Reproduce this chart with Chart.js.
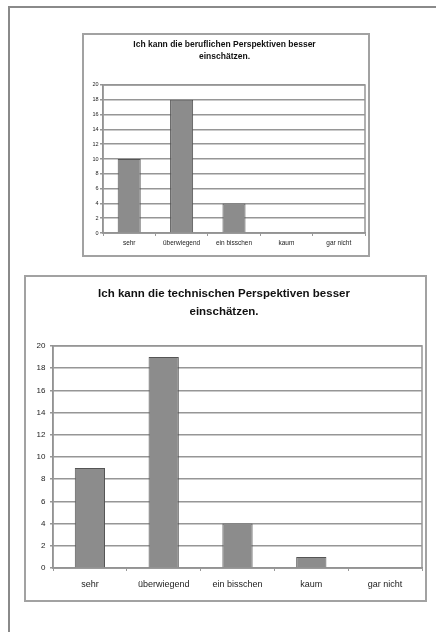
<!DOCTYPE html>
<html lang="de">
<head>
<meta charset="utf-8">
<title>Perspektiven</title>
<script src="https://cdn.jsdelivr.net/npm/chart.js@4/dist/chart.umd.min.js"></script>
<style>
  body { margin: 0; background: #fff; width: 436px; height: 632px; position: relative; overflow: hidden; }
  .seite { position: absolute; left: 8px; top: 6px; right: 0; bottom: 0; border-top: 2px solid #8a8a8a; border-left: 2px solid #8a8a8a; }
  .kasten { position: absolute; border: 2px solid #a2a2a2; background: #fff; }
  #kastenOben { left: 82px; top: 33px; width: 284px; height: 220px; }
  #kastenUnten { left: 24px; top: 275px; width: 399px; height: 323px; }
  canvas { display: block; }
</style>
</head>
<body>
<div class="seite"></div>
<div class="kasten" id="kastenOben"><canvas id="chartBeruflich" width="284" height="220"></canvas></div>
<div class="kasten" id="kastenUnten"><canvas id="chartTechnisch" width="399" height="323"></canvas></div>

<script>
const categories = ['sehr', 'überwiegend', 'ein bisschen', 'kaum', 'gar nicht'];
const beruflichWerte = [10, 18, 4, 0, 0];
const technischWerte = [9, 19, 4, 1, 0];
const titelBeruflich = ['Ich kann die beruflichen Perspektiven besser', 'einschätzen.'];
const titelTechnisch = ['Ich kann die technischen Perspektiven besser', 'einschätzen.'];
const yMax = 20;
const yStep = 2;

// Rahmen um die Zeichenfläche (rechte Kante fehlt sonst)
const plotRahmen = {
    id: 'plotRahmen',
    beforeDatasetsDraw(chart) {
        const a = chart.chartArea;
        const ctx = chart.ctx;
        ctx.save();
        ctx.strokeStyle = '#969696';
        ctx.lineWidth = 1.5;
        ctx.strokeRect(a.left, a.top, a.right - a.left, a.bottom - a.top);
        ctx.restore();
    }
};

function renderBalken(canvasId, werte, titel, m) {
    const canvas = document.getElementById(canvasId);
    if (!canvas) return;
    const ctx = canvas.getContext('2d');

    new Chart(ctx, {
        type: 'bar',
        data: {
            labels: categories,
            datasets: [{
                data: werte,
                backgroundColor: '#8c8c8c',
                borderColor: '#555',
                borderWidth: 1,
                categoryPercentage: 1,
                barPercentage: m.bar
            }]
        },
        options: {
            responsive: false,
            animation: false,
            layout: { padding: { left: 0, right: 3, top: 0, bottom: 0 } },
            plugins: {
                legend: { display: false },
                tooltip: { enabled: false },
                title: {
                    display: true,
                    text: titel,
                    color: '#111',
                    font: { family: "'Liberation Sans', Arial, sans-serif", size: m.titelGroesse, weight: 'bold', lineHeight: m.titelZeile },
                    padding: { top: m.titelOben, bottom: m.titelUnten }
                }
            },
            scales: {
                x: {
                    offset: true,
                    grid: { display: true, drawOnChartArea: false, drawTicks: true, tickLength: 3, color: '#999', lineWidth: 1 },
                    border: { display: true, color: '#8a8a8a', width: 1.5 },
                    ticks: {
                        color: '#222',
                        padding: m.xPad,
                        maxRotation: 0,
                        autoSkip: false,
                        font: { family: "'Liberation Sans', Arial, sans-serif", size: m.xSchrift }
                    },
                    afterFit(scale) { scale.height = m.xHoehe; }
                },
                y: {
                    min: 0,
                    max: yMax,
                    grid: { color: '#969696', lineWidth: 1.5, tickLength: 3 },
                    border: { display: true, color: '#8a8a8a', width: 1.5 },
                    ticks: {
                        stepSize: yStep,
                        color: '#222',
                        padding: m.yPad,
                        font: { family: "'Liberation Sans', Arial, sans-serif", size: m.ySchrift }
                    },
                    afterFit(scale) { scale.width = m.yBreite; }
                }
            }
        },
        plugins: [plotRahmen]
    });
}

renderBalken('chartBeruflich', beruflichWerte, titelBeruflich, {
    bar: 0.44, titelGroesse: 8.5, titelZeile: 1.41, titelOben: 4, titelUnten: 22,
    xSchrift: 6.5, xPad: 3.5, xHoehe: 22, ySchrift: 5.5, yPad: 1.5, yBreite: 19
});

renderBalken('chartTechnisch', technischWerte, titelTechnisch, {
    bar: 0.41, titelGroesse: 11.5, titelZeile: 1.56, titelOben: 8, titelUnten: 25,
    xSchrift: 9, xPad: 8.5, xHoehe: 32, ySchrift: 8, yPad: 4.5, yBreite: 27
});
</script>
</body>
</html>
